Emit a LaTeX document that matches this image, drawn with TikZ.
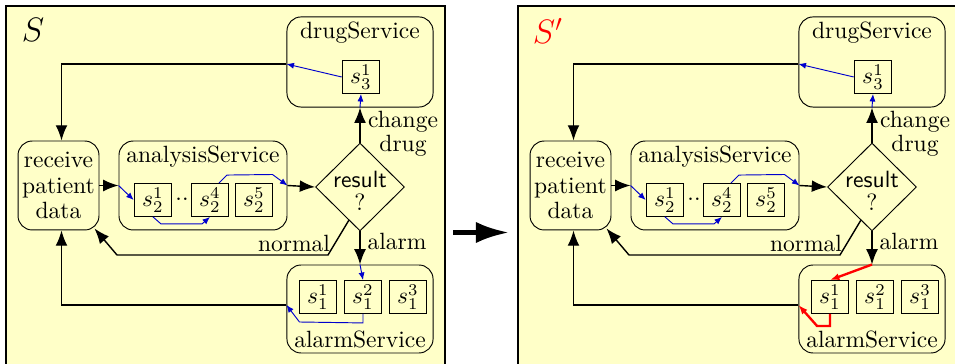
\documentclass[tikz,border=0pt]{standalone}
\usepackage{amsmath,amssymb}
\usepackage{tikz}
\usetikzlibrary{arrows.meta,shapes.geometric,calc}
\definecolor{panelyellow}{RGB}{255,255,200}
\definecolor{flowblue}{RGB}{0,0,205}
\tikzset{
  panel/.style={draw,line width=0.9pt,fill=panelyellow},
  service/.style={draw,rounded corners=6pt,inner sep=0pt},
  task/.style={draw,rounded corners=6pt,align=center,inner sep=0pt,
    minimum width=34.4pt,minimum height=37.8pt,
    execute at begin node=\setlength{\baselineskip}{11pt}},
  comp/.style={draw,inner sep=0pt,minimum width=16pt,minimum height=14pt},
  decision/.style={draw,diamond,inner sep=0pt,minimum width=37.8pt,minimum height=37.4pt},
  flow/.style={semithick,-{Latex[length=6.5pt,width=5pt]}},
  impl/.style={flowblue,-{Latex[length=3.2pt,width=2.6pt]}},
  redimpl/.style={red,line width=1pt,-{Latex[length=4pt,width=3pt]}},
}

\begin{document}
\begin{tikzpicture}[x=0.425pt,y=-0.425pt]
\useasboundingbox (0,0) rectangle (955,364);
% the two systems S and S'
\foreach \p/\dx in {L/0,R/512}{
\begin{scope}[shift={(\dx,0)}]
% frame
\node[panel,minimum width=186.6pt,minimum height=156.8pt] (\p-frame) at (225.5,190.5) {};
% services
\node[task] (\p-recv) at (58.5,185.5) {receive\\patient\\data};
\node[service,minimum width=71.4pt,minimum height=37.8pt] (\p-ana) at (203,185.5) {};
\node[below,inner sep=2pt] (\p-anal) at (\p-ana.north) {analysisService};
\node[service,minimum width=62.1pt,minimum height=38.3pt] (\p-drug) at (360,62) {};
\node[below,inner sep=2pt] (\p-drugl) at (\p-drug.north) {drugService};
\node[service,minimum width=62.1pt,minimum height=37.4pt] (\p-alarm) at (360,309) {};
\node[above,inner sep=2pt] (\p-alarml) at (\p-alarm.south) {alarmService};
% components
\node[comp] (\p-s21) at (153,200) {$s_2^1$};
\node[inner sep=0pt] (\p-dots) at (182,199) {..};
\node[comp] (\p-s24) at (210,200) {$s_2^4$};
\node[comp] (\p-s25) at (254,200) {$s_2^5$};
\node[comp] (\p-s31) at (361,77) {$s_3^1$};
\node[comp] (\p-s11) at (318,297) {$s_1^1$};
\node[comp] (\p-s12) at (363,297) {$s_1^2$};
\node[comp] (\p-s13) at (408,297) {$s_1^3$};
% decision
\node[decision] (\p-res) at (360,187) {};
\node[align=center,inner sep=0pt,execute at begin node=\setlength{\baselineskip}{10pt}]
  (\p-rest) at (360,191) {{\sffamily result}\\?};
% junctions on the service borders
\coordinate (\p-dj) at ($(\p-drug.west)+(0,2)$);
\coordinate (\p-aj) at ($(\p-alarm.west)+(0,-4)$);
% workflow
\draw[flow] (\p-recv.east) -- (\p-ana.west);
\draw[impl] (\p-ana.west) -- (\p-s21.west);
\draw[impl] (\p-s21.south) -- ++(8,7) -- ($(\p-s24.south)+(-8,7)$) -- (\p-s24.south);
\draw[impl] ($(\p-s24.north)+(9,0)$) -- ++(8,-8) -- ($(\p-ana.east)+(-15,-11)$) -- (\p-ana.east);
\draw[flow] (\p-ana.east) -- (\p-res.west);
\draw[flow] (\p-res.north) -- (\p-drug.south);
\draw[impl] (\p-drug.south) -- (\p-s31.south);
\draw[impl] (\p-s31.west) -- (\p-dj);
\draw[flow] (\p-dj) -| ($(\p-recv.north)+(3,0)$);
\draw[flow] (\p-res.south) -- (\p-alarm.north);
\draw[flow] (\p-aj) -| ($(\p-recv.south)+(3,0)$);
\draw[flow] ($(\p-res.south)!0.5!(\p-res.south west)$) -- (328,255) -- (117,255)
  -- ($(\p-recv.south east)+(-5,-2)$);
% branch labels
\node[align=center,execute at begin node=\setlength{\baselineskip}{8pt}]
  (\p-change) at (403,134) {change\\drug};
\node (\p-alarmt) at (397,241) {alarm};
\node (\p-normal) at (294,243) {normal};
\end{scope}
}
% names
\node[font=\Large] (L-name) at (33,30) {$S$};
\node[font=\Large,red] (R-name) at (548,31) {$S'$};
% alarm in S
\draw[impl] (L-alarm.north) -- (L-s12.north);
\draw[impl] (L-s12.south) -- ++(0,9) -- ($(L-alarm.west)+(13,13)$) -- (L-aj);
% alarm in S'
\draw[redimpl] (R-alarm.north) -- (R-s11.north);
\draw[redimpl] (R-s11.south) -- ++(0,12) -- ++(-13,0) -- (R-aj);
% S becomes S'
\draw[line width=2pt,-{Latex[length=14pt,width=9pt]}] ($(L-frame.east)+(7,42)$)
  -- ($(R-frame.west)+(-8,42)$);
\end{tikzpicture}
\end{document}
